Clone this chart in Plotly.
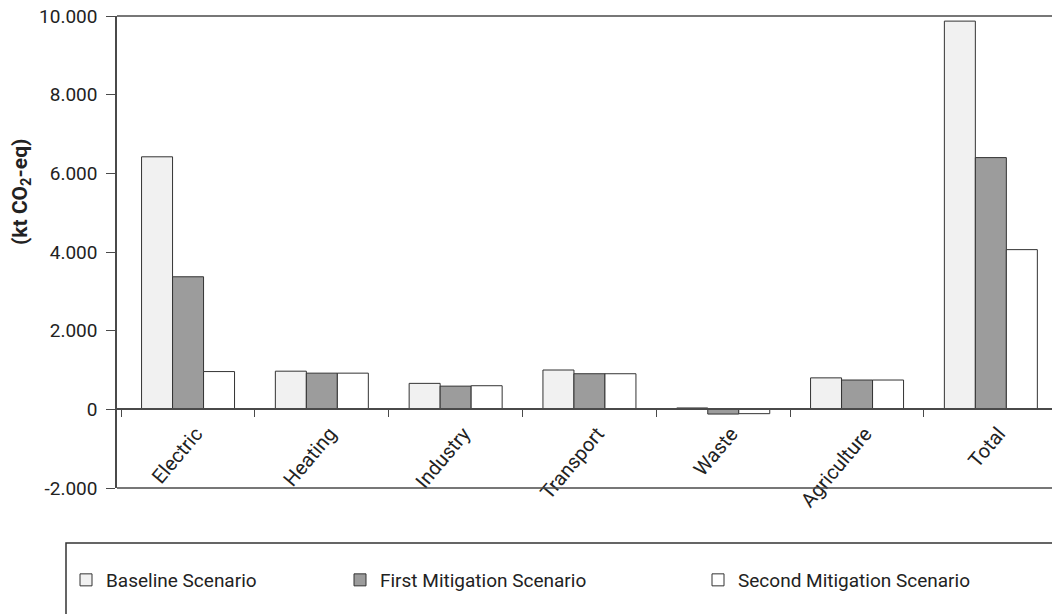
import plotly.graph_objects as go

categories = ["Electric", "Heating", "Industry", "Transport", "Waste", "Agriculture", "Total"]
baseline = [6420, 970, 660, 1000, 35, 800, 9870]
first_mitigation = [3370, 920, 590, 905, -120, 745, 6400]
second_mitigation = [960, 920, 600, 905, -110, 745, 4060]
series_names = ["Baseline Scenario", "First Mitigation Scenario", "Second Mitigation Scenario"]
y_tickvals = [-2000, 0, 2000, 4000, 6000, 8000, 10000]
y_ticktext = ["-2.000", "0", "2.000", "4.000", "6.000", "8.000", "10.000"]

FONT = "Roboto, Liberation Sans, sans-serif"
AXC = "#4a4a4a"
W, H = 1052, 614
L, R, T, B = 117, 0, 16, 126
PW, PH = W - L - R, H - T - B

def px_x(px):
    return (px - L) / PW

def px_y(py):
    return (H - B - py) / PH

colors = ["#f1f1f1", "#9c9c9c", "#ffffff"]
data = [baseline, first_mitigation, second_mitigation]

fig = go.Figure()
for i, (name, vals, col) in enumerate(zip(series_names, data, colors)):
    fig.add_trace(go.Bar(
        x=categories, y=vals, name=name,
        marker=dict(color=col, line=dict(color="#333333", width=1)),
        legend="legend" if i == 0 else f"legend{i+1}",
    ))

legend_text_x = [106, 380, 738]
legend_common = dict(
    orientation="h", xanchor="left", yanchor="middle",
    y=px_y(580), bgcolor="rgba(0,0,0,0)",
    font=dict(family=FONT, size=19, color="#222222"),
)
legends = {}
for i, tx in enumerate(legend_text_x):
    key = "legend" if i == 0 else f"legend{i+1}"
    legends[key] = dict(x=px_x(tx - 40), **legend_common)

fig.update_layout(
    width=W, height=H,
    margin=dict(l=L, r=R, t=T, b=B, pad=0, autoexpand=False),
    paper_bgcolor="white", plot_bgcolor="white",
    barmode="group", bargap=0.305, bargroupgap=0,
    font=dict(family=FONT, size=19, color="#222222"),
    showlegend=True,
    **legends,
    xaxis=dict(
        type="category", range=[-0.531, 6.457],
        anchor="free", position=2/12,
        showline=True, linecolor=AXC, linewidth=1.5,
        ticks="outside", tickson="boundaries", ticklen=7, tickcolor=AXC, tickwidth=1.2,
        tickangle=-50, tickfont=dict(family=FONT, size=20, color="#222222"),
        ticklabelshift=8, ticklabelstandoff=4,
        showgrid=False, zeroline=False, automargin=False,
    ),
    yaxis=dict(
        range=[-2000, 10000], domain=[0, 1],
        tickvals=y_tickvals, ticktext=y_ticktext,
        showline=True, linecolor=AXC, linewidth=1.5,
        ticks="outside", ticklen=9, tickcolor=AXC, tickwidth=1.2,
        tickfont=dict(family=FONT, size=19, color="#222222"),
        ticklabelstandoff=5,
        showgrid=False, zeroline=False, automargin=False,
    ),
    annotations=[dict(
        text="<b>(kt CO<sub>2</sub>-eq)</b>", textangle=-90,
        xref="paper", yref="paper", x=px_x(21), y=px_y(192),
        xanchor="center", yanchor="middle", showarrow=False,
        font=dict(family=FONT, size=21, color="#222222"),
    )],
    shapes=[
        dict(type="line", xref="paper", yref="paper", x0=0, x1=1.01, y0=1, y1=1,
             line=dict(color=AXC, width=1.5)),
        dict(type="line", xref="paper", yref="paper", x0=0, x1=1.01, y0=0, y1=0,
             line=dict(color=AXC, width=1.5)),
        dict(type="rect", xref="paper", yref="paper",
             x0=px_x(66), x1=1.05, y0=px_y(543), y1=px_y(700),
             line=dict(color="#333333", width=1.5), fillcolor="rgba(0,0,0,0)"),
    ],
)

fig.write_html(
    "out.html",
    config={"displayModeBar": False},
    post_script="document.body.style.margin='0';document.body.style.overflow='hidden';",
)
